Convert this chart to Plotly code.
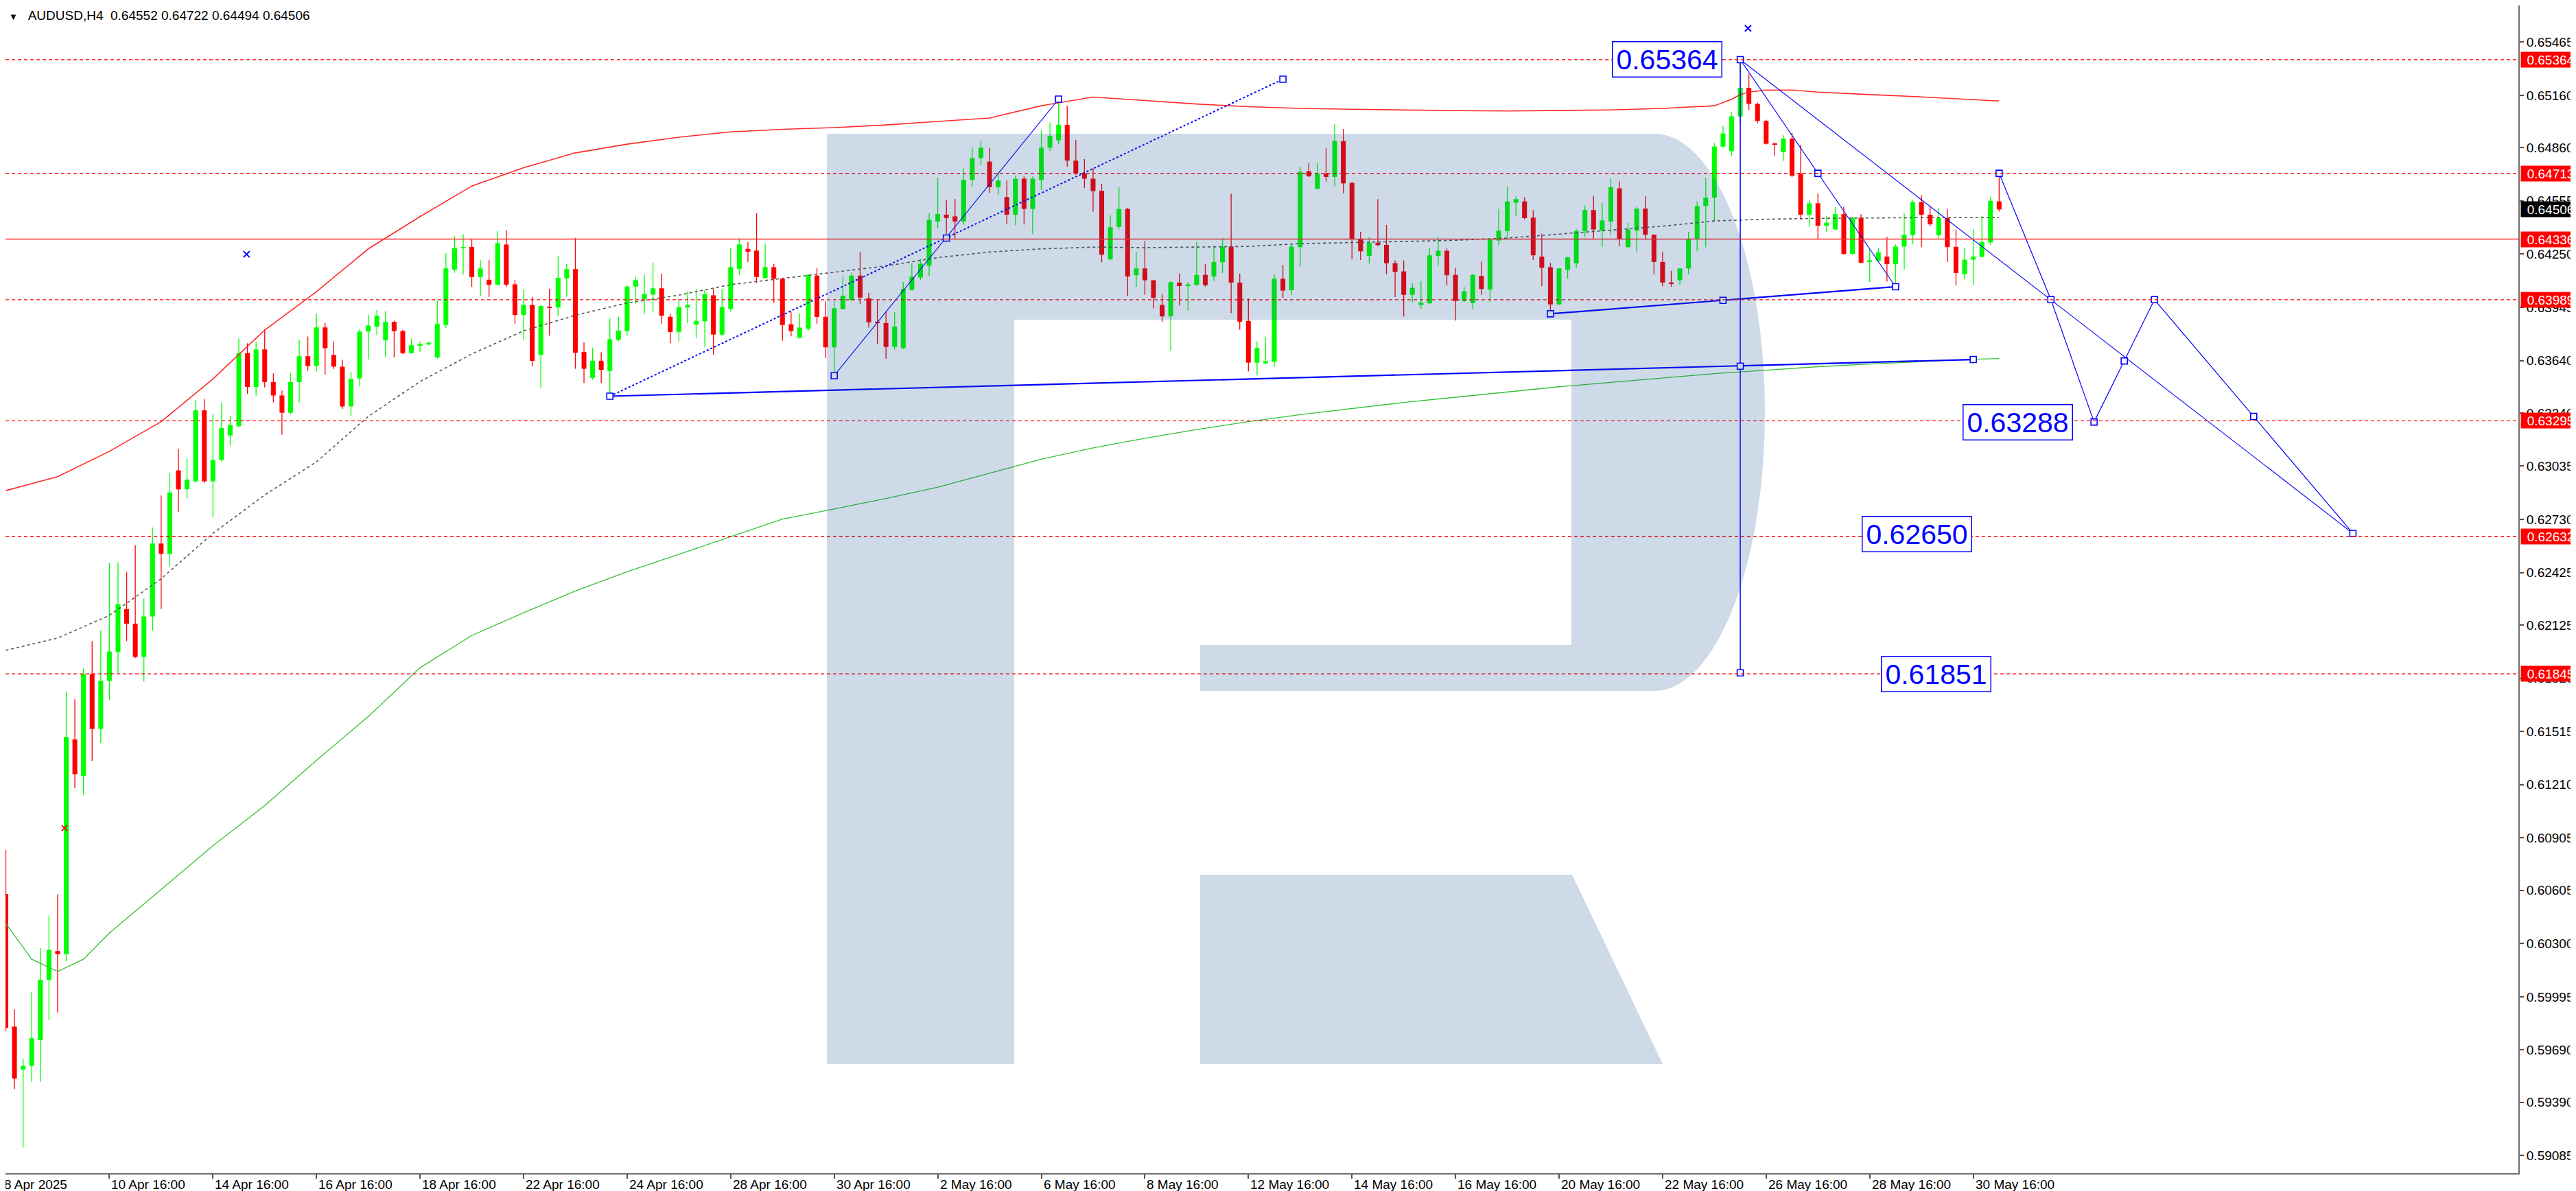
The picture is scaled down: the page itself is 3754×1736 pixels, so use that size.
import plotly.graph_objects as go

# ---------------- data ----------------
opens = [
0.60584,0.59824,0.59578,0.59599,0.59747,0.60092,0.60257,0.60239,0.61470,0.61259,
0.61843,0.61530,0.61805,0.61970,0.62216,0.62132,0.61942,0.62174,0.62592,0.62533,
0.63011,0.62902,0.62948,0.63355,0.62948,0.63071,0.63211,0.63264,0.63683,0.63489,
0.63704,0.63517,0.63440,0.63341,0.63517,0.63665,0.63609,0.63830,0.63672,0.63605,
0.63377,0.63538,0.63806,0.63834,0.63756,0.63862,0.63809,0.63683,0.63728,0.63735,
0.63658,0.63844,0.64161,0.64284,0.64291,0.64119,0.64103,0.64075,0.64305,0.64077,
0.63901,0.63959,0.63672,0.63949,0.63944,0.64111,0.64164,0.63689,0.63541,0.63639,
0.63580,0.63759,0.63809,0.64064,0.63992,0.64018,0.64054,0.63891,0.63803,0.63944,
0.63846,0.63865,0.64014,0.63789,0.63937,0.64166,0.64280,0.64270,0.64113,0.64175,
0.64109,0.63848,0.63770,0.63822,0.64127,0.63891,0.63716,0.63936,0.63986,0.64127,
0.63996,0.63861,0.63855,0.63718,0.63711,0.64045,0.64116,0.64184,0.64437,0.64476,
0.64466,0.64437,0.64676,0.64800,0.64780,0.64633,0.64577,0.64476,0.64682,0.64509,
0.64675,0.64860,0.64902,0.64991,0.64786,0.64712,0.64682,0.64613,0.64220,0.64406,
0.64509,0.64129,0.64168,0.64100,0.63959,0.63893,0.64087,0.64067,0.64074,0.64131,
0.64122,0.64203,0.64293,0.64087,0.63867,0.63628,0.63624,0.63633,0.64109,0.64043,
0.64290,0.64725,0.64624,0.64712,0.64692,0.64898,0.64658,0.64336,0.64240,0.64315,
0.64303,0.64198,0.64151,0.64017,0.63959,0.63968,0.64240,0.64269,0.64131,0.63981,
0.63969,0.64125,0.64047,0.64328,0.64382,0.64544,0.64552,0.64459,0.64236,0.64175,
0.63962,0.64161,0.64197,0.64382,0.64502,0.64384,0.64437,0.64627,0.64290,0.64384,
0.64511,0.64361,0.64205,0.64087,0.64100,0.64168,0.64334,0.64526,0.64574,0.64866,
0.64840,0.65039,0.65203,0.65111,0.65013,0.64882,0.64834,0.64912,0.64712,0.64476,
0.64541,0.64413,0.64391,0.64479,0.64251,0.64459,0.64207,0.64211,0.64236,0.64192,
0.64293,0.64358,0.64548,0.64476,0.64358,0.64456,0.64292,0.64135,0.64218,0.64234,
0.64317,0.64552]
highs = [
0.60837,0.59923,0.59642,0.60021,0.60275,0.60461,0.60581,0.61745,0.61699,0.61875,
0.62033,0.62096,0.62480,0.62483,0.62427,0.62582,0.62279,0.62684,0.62867,0.62993,
0.63134,0.63078,0.63412,0.63419,0.63334,0.63401,0.63324,0.63767,0.63739,0.63746,
0.63820,0.63567,0.63468,0.63567,0.63760,0.63778,0.63908,0.63855,0.63749,0.63644,
0.63574,0.63820,0.63904,0.63929,0.63922,0.63869,0.63816,0.63767,0.63749,0.63749,
0.63985,0.64256,0.64354,0.64365,0.64337,0.64214,0.64215,0.64381,0.64387,0.64103,
0.64047,0.64005,0.63960,0.64051,0.64238,0.64195,0.64343,0.63744,0.63714,0.63687,
0.63881,0.63891,0.64073,0.64120,0.64132,0.64201,0.64139,0.63910,0.63992,0.64036,
0.64049,0.64042,0.64051,0.64051,0.64287,0.64341,0.64319,0.64485,0.64310,0.64195,
0.64112,0.63920,0.63910,0.64136,0.64169,0.63979,0.63979,0.64123,0.64143,0.64264,
0.64028,0.63986,0.63920,0.63916,0.64090,0.64198,0.64221,0.64485,0.64688,0.64561,
0.64565,0.64740,0.64860,0.64900,0.64860,0.64720,0.64672,0.64699,0.64695,0.64695,
0.64958,0.65004,0.65130,0.65100,0.64904,0.64794,0.64742,0.64653,0.64473,0.64633,
0.64515,0.64262,0.64325,0.64103,0.64021,0.64096,0.64139,0.64089,0.64319,0.64194,
0.64299,0.64342,0.64596,0.64139,0.63995,0.63749,0.63775,0.64133,0.64188,0.64306,
0.64751,0.64773,0.64771,0.64856,0.64997,0.64967,0.64662,0.64378,0.64347,0.64565,
0.64417,0.64214,0.64214,0.64083,0.64096,0.64286,0.64347,0.64282,0.64171,0.64063,
0.64139,0.64207,0.64340,0.64509,0.64640,0.64583,0.64577,0.64502,0.64367,0.64201,
0.64170,0.64235,0.64393,0.64528,0.64583,0.64541,0.64683,0.64666,0.64430,0.64522,
0.64581,0.64365,0.64262,0.64155,0.64170,0.64378,0.64552,0.64688,0.64885,0.64984,
0.65063,0.65364,0.65282,0.65118,0.65020,0.64889,0.64931,0.64944,0.64876,0.64558,
0.64597,0.64467,0.64522,0.64522,0.64462,0.64479,0.64279,0.64286,0.64349,0.64306,
0.64483,0.64561,0.64587,0.64522,0.64515,0.64506,0.64391,0.64286,0.64394,0.64467,
0.64577,0.64722]
lows = [
0.59800,0.59466,0.59132,0.59508,0.59508,0.59860,0.59905,0.60197,0.61189,0.61154,
0.61347,0.61449,0.61695,0.61850,0.62033,0.61935,0.61801,0.62093,0.62216,0.62462,
0.62772,0.62849,0.62940,0.62940,0.62743,0.63060,0.63152,0.63257,0.63450,0.63440,
0.63486,0.63401,0.63215,0.63334,0.63401,0.63581,0.63577,0.63560,0.63591,0.63363,
0.63324,0.63493,0.63647,0.63788,0.63658,0.63658,0.63676,0.63679,0.63690,0.63728,
0.63651,0.63827,0.64143,0.64133,0.64062,0.64010,0.64005,0.64070,0.64062,0.63852,
0.63761,0.63606,0.63482,0.63783,0.63894,0.64005,0.63593,0.63512,0.63531,0.63512,
0.63436,0.63750,0.63783,0.63966,0.63907,0.63920,0.63852,0.63741,0.63748,0.63855,
0.63770,0.63718,0.63674,0.63783,0.63920,0.64130,0.64204,0.64084,0.64108,0.63971,
0.63754,0.63779,0.63766,0.63809,0.63852,0.63655,0.63554,0.63930,0.63980,0.63963,
0.63829,0.63733,0.63650,0.63702,0.63708,0.64041,0.64100,0.64123,0.64398,0.64365,
0.64339,0.64420,0.64640,0.64760,0.64600,0.64590,0.64424,0.64417,0.64420,0.64365,
0.64617,0.64840,0.64880,0.64751,0.64705,0.64629,0.64493,0.64203,0.64214,0.64391,
0.64011,0.64061,0.64017,0.63939,0.63863,0.63696,0.63956,0.63926,0.64070,0.64063,
0.64096,0.64142,0.63913,0.63817,0.63578,0.63555,0.63620,0.63605,0.64000,0.64017,
0.64179,0.64692,0.64620,0.64666,0.64640,0.64598,0.64220,0.64216,0.64197,0.64295,
0.64135,0.64004,0.63893,0.63974,0.63936,0.63961,0.64184,0.64072,0.63869,0.63974,
0.63935,0.64017,0.63974,0.64302,0.64338,0.64469,0.64450,0.64216,0.64066,0.63910,
0.63959,0.64109,0.64171,0.64351,0.64336,0.64292,0.64358,0.64295,0.64286,0.64260,
0.64336,0.64135,0.64066,0.64063,0.64074,0.64135,0.64266,0.64289,0.64437,0.64860,
0.64814,0.65000,0.65075,0.65000,0.64878,0.64814,0.64784,0.64692,0.64446,0.64407,
0.64336,0.64378,0.64388,0.64247,0.64247,0.64197,0.64089,0.64208,0.64092,0.64063,
0.64162,0.64306,0.64290,0.64410,0.64338,0.64205,0.64070,0.64105,0.64074,0.64232,
0.64303,0.64494]
closes = [
0.59817,0.59526,0.59599,0.59758,0.60092,0.60264,0.60239,0.61484,0.61270,0.61843,
0.61530,0.61805,0.61973,0.62244,0.62132,0.61942,0.62174,0.62592,0.62533,0.62884,
0.62902,0.62958,0.63355,0.62948,0.63071,0.63253,0.63271,0.63683,0.63489,0.63704,
0.63517,0.63440,0.63341,0.63517,0.63665,0.63609,0.63830,0.63711,0.63605,0.63377,
0.63535,0.63806,0.63841,0.63897,0.63862,0.63809,0.63683,0.63728,0.63735,0.63742,
0.63851,0.64168,0.64284,0.64291,0.64119,0.64168,0.64075,0.64313,0.64075,0.63901,
0.63959,0.63638,0.63953,0.63944,0.64114,0.64164,0.63685,0.63593,0.63639,0.63587,
0.63762,0.63812,0.64064,0.64101,0.64021,0.64054,0.63897,0.63803,0.63946,0.63959,
0.63868,0.64021,0.63789,0.63946,0.64175,0.64305,0.64264,0.64119,0.64175,0.64109,
0.63844,0.63809,0.63829,0.64132,0.63890,0.63716,0.63940,0.64012,0.64127,0.64001,
0.63859,0.63855,0.63718,0.63835,0.64051,0.64120,0.64195,0.64447,0.64479,0.64457,
0.64437,0.64676,0.64800,0.64860,0.64633,0.64672,0.64476,0.64682,0.64509,0.64682,
0.64860,0.64928,0.64991,0.64786,0.64712,0.64682,0.64611,0.64247,0.64404,0.64509,
0.64122,0.64168,0.64100,0.64000,0.63893,0.64089,0.64067,0.64077,0.64131,0.64072,
0.64205,0.64293,0.64087,0.63863,0.63628,0.63712,0.63637,0.64109,0.64041,0.64293,
0.64721,0.64696,0.64712,0.64692,0.64898,0.64655,0.64336,0.64266,0.64315,0.64302,
0.64198,0.64148,0.64017,0.64057,0.63972,0.64243,0.64269,0.64129,0.63981,0.64037,
0.64131,0.64050,0.64334,0.64384,0.64552,0.64565,0.64456,0.64243,0.64172,0.63962,
0.64168,0.64231,0.64382,0.64502,0.64391,0.64443,0.64633,0.64336,0.64391,0.64511,
0.64361,0.64205,0.64087,0.64083,0.64168,0.64334,0.64526,0.64574,0.64866,0.64941,
0.65039,0.65203,0.65111,0.65013,0.64882,0.64878,0.64912,0.64699,0.64476,0.64541,
0.64413,0.64430,0.64479,0.64251,0.64459,0.64201,0.64214,0.64260,0.64192,0.64293,
0.64361,0.64548,0.64476,0.64421,0.64456,0.64290,0.64142,0.64218,0.64236,0.64319,
0.64555,0.64506]

# moving averages (bar index, value)
ma_red_x = [0,6,12,18,24,30,36,42,48,54,60,66,72,78,84,90,96,102,108,114,120,126,132,138,144,150,
            156,162,168,174,180,186,192,198,200,201,202,204,207,210,216,222,228,231]
ma_red_y = [0.62895,0.62975,0.63120,0.63290,0.63535,0.63815,0.64035,0.64280,0.64465,0.64640,0.64745,
            0.64830,0.64880,0.64920,0.64950,0.64965,0.64975,0.64990,0.65010,0.65030,0.65100,0.65150,
            0.65130,0.65110,0.65095,0.65085,0.65080,0.65075,0.65072,0.65070,0.65072,0.65076,0.65085,
            0.65100,0.65137,0.65164,0.65178,0.65190,0.65190,0.65178,0.65164,0.65151,0.65135,0.65127]
ma_grey_x = list(range(0, 229, 6)) + [231]
ma_grey_y = [0.61980,0.62050,0.62180,0.62390,0.62650,0.62870,0.63060,0.63320,0.63520,0.63678,0.63810,
             0.63900,0.63970,0.64015,0.64075,0.64110,0.64145,0.64182,0.64230,0.64262,0.64280,0.64290,
             0.64287,0.64290,0.64294,0.64310,0.64316,0.64322,0.64329,0.64342,0.64365,0.64388,0.64410,
             0.64440,0.64450,0.64455,0.64458,0.64459,0.64459,0.64459]
ma_green_x = [0,3,6,9] + list(range(12, 229, 6)) + [231]
ma_green_y = [0.60415,0.60210,0.60140,0.60210,0.60360,0.60610,0.60860,0.61090,0.61350,0.61600,0.61880,
              0.62065,0.62195,0.62320,0.62430,0.62530,0.62630,0.62732,0.62790,0.62850,0.62915,0.62995,
              0.63075,0.63140,0.63195,0.63245,0.63290,0.63330,0.63365,0.63400,0.63430,0.63460,0.63490,
              0.63515,0.63540,0.63565,0.63585,0.63605,0.63620,0.63635,0.63648,0.63652]

# analyst drawings (bar index, price)
line_L1 = ([70, 228], [0.63436, 0.63646])
line_L2 = ([70, 148], [0.63436, 0.65252])
line_L3 = ([96, 122], [0.63554, 0.65138])
line_C1 = ([179, 219], [0.63908, 0.64063])
line_V = ([201, 201], [0.65364, 0.61851])
line_D1 = ([201, 219], [0.65364, 0.64063])
line_D2 = ([201, 272], [0.65364, 0.62650])
path_F = ([231, 237, 242, 249, 272], [0.64713, 0.63989, 0.63288, 0.63989, 0.62650])
anchor_x = [70, 96, 109, 122, 148, 228, 179, 199, 219, 201, 201, 201, 210, 231, 237, 242, 245.5, 249, 260.5, 272]
anchor_y = [0.63436, 0.63554, 0.64342, 0.65138, 0.65252, 0.63646, 0.63908, 0.63985, 0.64063, 0.65364,
            0.63608, 0.61851, 0.64713, 0.64713, 0.63989, 0.63288, 0.63638, 0.63989, 0.63320, 0.62650]
target_labels = ["0.65364", "0.63288", "0.62650", "0.61851"]
target_x = [192.5, 233.2, 221.5, 223.7]
target_y = [0.65364, 0.63285, 0.62644, 0.61844]
cross_blue_x = [27.9, 201.9]
cross_blue_y = [0.64249, 0.65544]
cross_red_x = [6.8]
cross_red_y = [0.60961]

dashed_levels = [0.65364, 0.64713, 0.63989, 0.63295, 0.62632, 0.61845]
solid_level = 0.64336
current_price = 0.64506

x_tick_idx = list(range(12, 229, 12))
x_tick_labels = ["10 Apr 16:00", "14 Apr 16:00", "16 Apr 16:00", "18 Apr 16:00", "22 Apr 16:00",
                 "24 Apr 16:00", "28 Apr 16:00", "30 Apr 16:00", "2 May 16:00", "6 May 16:00",
                 "8 May 16:00", "12 May 16:00", "14 May 16:00", "16 May 16:00", "20 May 16:00",
                 "22 May 16:00", "26 May 16:00", "28 May 16:00", "30 May 16:00"]
first_label = "8 Apr 2025"
y_ticks = [0.65465, 0.65160, 0.64860, 0.64555, 0.64250, 0.63945, 0.63640, 0.63340, 0.63035, 0.62730,
           0.62425, 0.62125, 0.61820, 0.61515, 0.61210, 0.60905, 0.60605, 0.60300, 0.59995, 0.59690,
           0.59390, 0.59085]
title_text = "AUDUSD,H4\u00a0 0.64552 0.64722 0.64494 0.64506"

# ---------------- figure ----------------
W, H = 3754, 1736
PW, PH = 3662, 1702
FONT = "Liberation Sans, Arial, DejaVu Sans"
GREEN, RED, BLUE = "#00ff00", "#ff0000", "#0000ff"

N = len(opens)
idx = list(range(N))
fig = go.Figure()

# wicks
for col, up in ((GREEN, True), (RED, False)):
    xs, ys = [], []
    for i in idx:
        if (closes[i] >= opens[i]) == up:
            xs += [i, i, None]
            ys += [lows[i], highs[i], None]
    fig.add_trace(go.Scatter(x=xs, y=ys, mode="lines", line=dict(color=col, width=1.3),
                             hoverinfo="skip", showlegend=False))

# bodies
minh = 0.00005
heights, bases, cols = [], [], []
for o, c in zip(opens, closes):
    h = max(abs(c - o), minh)
    bases.append(min(o, c) - (h - abs(c - o)) / 2)
    heights.append(h)
    cols.append(GREEN if c >= o else RED)
fig.add_trace(go.Bar(x=idx, y=heights, base=bases, width=0.56,
                     marker=dict(color=cols, line=dict(width=0)), hoverinfo="skip", showlegend=False))

# moving averages
fig.add_trace(go.Scatter(x=ma_green_x, y=ma_green_y, mode="lines", line=dict(color="#34c234", width=1.3),
                         hoverinfo="skip", showlegend=False))
fig.add_trace(go.Scatter(x=ma_red_x, y=ma_red_y, mode="lines", line=dict(color="#ff2a2a", width=1.6),
                         hoverinfo="skip", showlegend=False))
fig.add_trace(go.Scatter(x=ma_grey_x, y=ma_grey_y, mode="lines",
                         line=dict(color="#555555", width=1.6, dash="4px,4px"),
                         hoverinfo="skip", showlegend=False))

# drawings
def add_line(xy, width=1.2, dash=None):
    fig.add_trace(go.Scatter(x=xy[0], y=xy[1], mode="lines",
                             line=dict(color=BLUE, width=width, dash=dash),
                             hoverinfo="skip", showlegend=False))

add_line(line_L1, 2.2)
add_line(line_L2, 2.0, "dot")
add_line(line_L3, 1.1)
add_line(line_C1, 2.2)
add_line(line_V, 1.5)
add_line(line_D1, 1.1)
add_line(line_D2, 1.1)
add_line(path_F, 1.2)
fig.add_trace(go.Scatter(x=anchor_x, y=anchor_y, mode="markers",
                         marker=dict(symbol="square", size=9, color="white", line=dict(color=BLUE, width=1.6)),
                         hoverinfo="skip", showlegend=False))
fig.add_trace(go.Scatter(x=cross_blue_x, y=cross_blue_y, mode="markers",
                         marker=dict(symbol="x-thin", size=9, line=dict(color=BLUE, width=2)),
                         hoverinfo="skip", showlegend=False))
fig.add_trace(go.Scatter(x=cross_red_x, y=cross_red_y, mode="markers",
                         marker=dict(symbol="x-thin", size=8, line=dict(color=RED, width=2)),
                         hoverinfo="skip", showlegend=False))

# horizontal levels
shapes = []
for lv in dashed_levels:
    shapes.append(dict(type="line", xref="paper", yref="y", x0=0, x1=1, y0=lv, y1=lv, layer="above",
                       line=dict(color=RED, width=1.3, dash="5px,4px")))
shapes.append(dict(type="line", xref="paper", yref="y", x0=0, x1=1, y0=solid_level, y1=solid_level,
                   layer="above", line=dict(color="#ff3030", width=1.6)))

# watermark logo (pixel geometry -> paper)
def P(x, y):
    return f"{x / PW:.5f},{1 - y / PH:.5f}"

logo_main = ("M " + P(1197, 187) + " L " + P(2403, 187) +
             " C " + P(2492, 187) + " " + P(2564, 369) + " " + P(2564, 593) +
             " C " + P(2564, 817) + " " + P(2492, 999) + " " + P(2403, 999) +
             " L " + P(1741, 999) + " L " + P(1741, 932) + " L " + P(2282, 932) +
             " L " + P(2282, 458) + " L " + P(1470, 458) + " L " + P(1470, 1543) +
             " L " + P(1197, 1543) + " Z")
logo_leg = ("M " + P(1741, 1267) + " L " + P(2283, 1267) + " L " + P(2415, 1543) +
            " L " + P(1741, 1543) + " Z")
for pth in (logo_main, logo_leg):
    shapes.append(dict(type="path", xref="paper", yref="paper", path=pth, layer="above",
                       fillcolor="rgb(10,70,140)", opacity=0.2, line=dict(width=0)))

annotations = []
# price boxes on the right axis
for lv in dashed_levels + [solid_level]:
    annotations.append(dict(x=1, xref="paper", y=lv, yref="y", xanchor="left", yanchor="middle",
                            xshift=3, text=f"{lv:.5f}", showarrow=False, bgcolor=RED,
                            font=dict(family=FONT, size=19, color="white"), width=84, height=20,
                            borderpad=1))
annotations.append(dict(x=1, xref="paper", y=current_price, yref="y", xanchor="left", yanchor="middle",
                        xshift=3, text=f"{current_price:.5f}", showarrow=False, bgcolor="black",
                        font=dict(family=FONT, size=19, color="white"), width=84, height=20, borderpad=1))
# time labels
for i, lab in zip(x_tick_idx, x_tick_labels):
    annotations.append(dict(x=i, xref="x", y=-17 / PH, yref="paper", xanchor="left", yanchor="middle",
                            xshift=1, text=lab, showarrow=False,
                            font=dict(family=FONT, size=19, color="black")))
annotations.append(dict(x=-4 / PW, xref="paper", y=-17 / PH, yref="paper", xanchor="left", yanchor="middle",
                        text=first_label, showarrow=False, font=dict(family=FONT, size=19, color="black")))
# target labels
for t, tx, ty in zip(target_labels, target_x, target_y):
    annotations.append(dict(x=tx, xref="x", y=ty, yref="y", xanchor="center", yanchor="middle",
                            text=t, showarrow=False, bgcolor="white", bordercolor=BLUE, borderwidth=1.5,
                            borderpad=2, width=154, height=46,
                            font=dict(family=FONT, size=41, color=BLUE)))
# title
annotations.append(dict(x=4 / PW, xref="paper", y=1 - 3 / PH, yref="paper", xanchor="left",
                        yanchor="top", showarrow=False, borderpad=0,
                        text="<span style='font-size:13px'>\u25bc</span>\u00a0\u00a0 " + title_text,
                        font=dict(family=FONT, size=19, color="black")))

fig.update_layout(
    width=W, height=H, margin=dict(l=0, r=W - PW, t=0, b=H - PH),
    paper_bgcolor="white", plot_bgcolor="white", showlegend=False, barmode="overlay",
    hovermode=False,
    xaxis=dict(range=[-0.04, (PW - 0.5) / 12.575], showgrid=False, zeroline=False, showline=True,
               linecolor="#6e6e6e", linewidth=2, ticks="outside", ticklen=6, tickcolor="#505050",
               tickwidth=1.5, tickvals=x_tick_idx, showticklabels=False, fixedrange=True),
    yaxis=dict(side="right", range=[0.589843, 0.656745], showgrid=False, zeroline=False, showline=True,
               linecolor="#6e6e6e", linewidth=2, ticks="outside", ticklen=6, tickcolor="#505050",
               tickwidth=1.5, tickvals=y_ticks, ticktext=[f"{v:.5f}" for v in y_ticks],
               tickfont=dict(family=FONT, size=19, color="black"), fixedrange=True),
    shapes=shapes, annotations=annotations,
)

fig.write_html("out.html")
